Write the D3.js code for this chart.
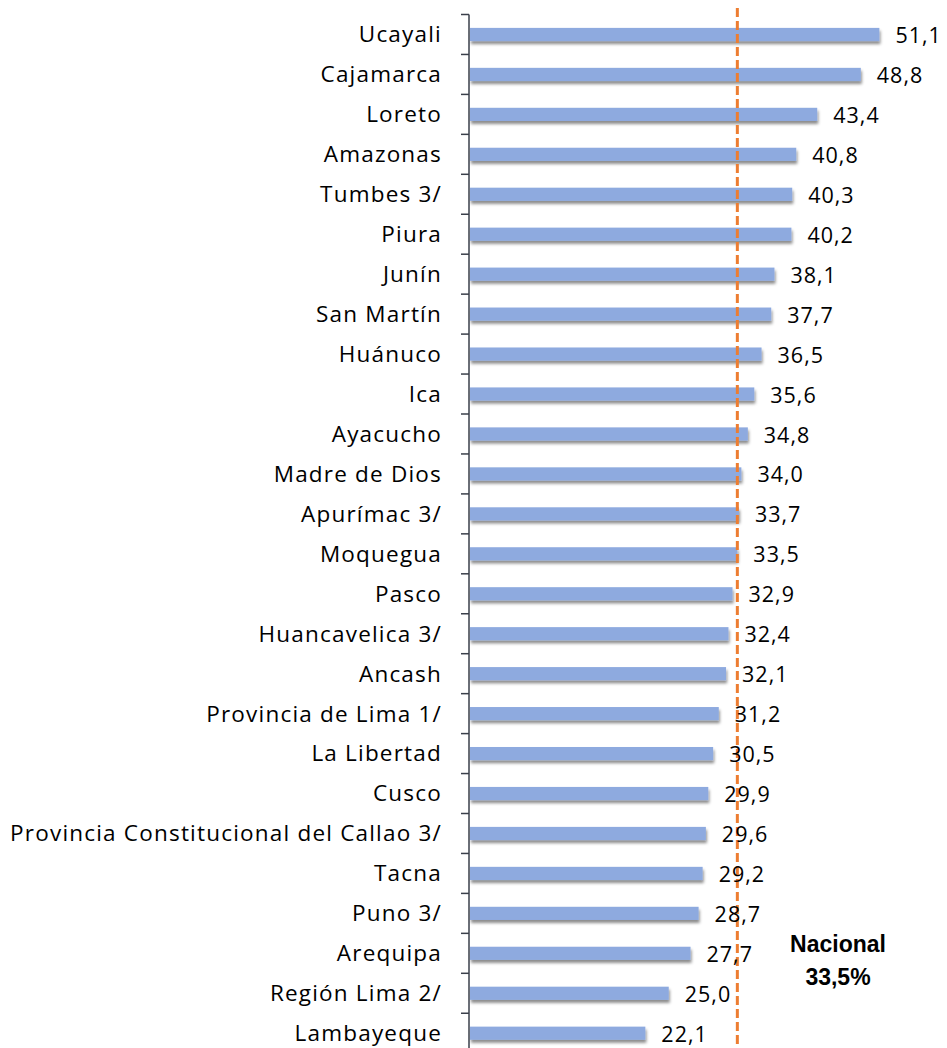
<!DOCTYPE html>
<html>
<head>
<meta charset="utf-8">
<script src="https://cdn.jsdelivr.net/npm/d3@7"></script>
<style>
  body { margin: 0; background: #fff; }
  svg { display: block; }
</style>
</head>
<body>
<div id="chart"></div>
<script>
// regions, top to bottom
var regions = ["Ucayali", "Cajamarca", "Loreto", "Amazonas", "Tumbes 3/", "Piura", "Junín",
  "San Martín", "Huánuco", "Ica", "Ayacucho", "Madre de Dios", "Apurímac 3/", "Moquegua",
  "Pasco", "Huancavelica 3/", "Ancash", "Provincia de Lima 1/", "La Libertad", "Cusco",
  "Provincia Constitucional del Callao 3/", "Tacna", "Puno 3/", "Arequipa", "Región Lima 2/",
  "Lambayeque"];
var values = [51.1, 48.8, 43.4, 40.8, 40.3, 40.2, 38.1, 37.7, 36.5, 35.6, 34.8, 34.0, 33.7,
  33.5, 32.9, 32.4, 32.1, 31.2, 30.5, 29.9, 29.6, 29.2, 28.7, 27.7, 25.0, 22.1];
var nationalValue = 33.5;
var nationalLabel = ["Nacional", "33,5%"];

var width = 947, height = 1048;

var svg = d3.select("#chart").append("svg")
  .attr("width", width)
  .attr("height", height);

// drop shadow under the bars
var filter = svg.append("defs").append("filter")
  .attr("id", "shadow")
  .attr("x", "-5%").attr("y", "-50%")
  .attr("width", "110%").attr("height", "220%");
filter.append("feDropShadow")
  .attr("dx", 1).attr("dy", 3)
  .attr("stdDeviation", 1.6)
  .attr("flood-color", "#000")
  .attr("flood-opacity", 0.45);

// scales
var x = d3.scaleLinear()
  .domain([0, 55])
  .range([467, 467 + 55 * 8.07]);

var y = d3.scaleBand()
  .domain(regions)
  .range([14.5, 14.5 + regions.length * 39.95])
  .paddingInner(0.67)
  .paddingOuter(0.335);

var data = regions.map(function (r, i) { return { region: r, value: values[i] }; });
var fmt = function (v) { return d3.format(".1f")(v).replace(".", ","); };
var axisX = x(0) + 2;
var labelFont = "'Open Sans', 'Noto Sans', sans-serif";

// bars
svg.selectAll(".bar")
  .data(data)
  .enter().append("rect")
  .attr("class", "bar")
  .attr("x", axisX + 1)
  .attr("y", function (d) { return y(d.region); })
  .attr("width", function (d) { return x(d.value) - axisX - 1; })
  .attr("height", y.bandwidth())
  .attr("fill", "#8eaadf")
  .attr("filter", "url(#shadow)");

// y axis with ticks between categories
var step = y.step();
svg.append("line")
  .attr("x1", axisX).attr("x2", axisX)
  .attr("y1", y.range()[0]).attr("y2", height)
  .attr("stroke", "#3a3f4a")
  .attr("stroke-width", 1.5);

svg.selectAll(".tick")
  .data(d3.range(regions.length + 1))
  .enter().append("line")
  .attr("x1", axisX - 8).attr("x2", axisX)
  .attr("y1", function (i) { return y.range()[0] + i * step; })
  .attr("y2", function (i) { return y.range()[0] + i * step; })
  .attr("stroke", "#3a3f4a")
  .attr("stroke-width", 1.5);

// category labels
svg.selectAll(".cat")
  .data(data)
  .enter().append("text")
  .attr("class", "cat")
  .attr("x", 442)
  .attr("y", function (d) { return y(d.region) + y.bandwidth() / 2; })
  .attr("dy", "0.35em")
  .attr("text-anchor", "end")
  .style("font-family", labelFont)
  .style("font-size", "22.5px")
  .style("letter-spacing", "1.2px")
  .attr("fill", "#000")
  .text(function (d) { return d.region; });

// national reference line
svg.append("line")
  .attr("x1", x(nationalValue)).attr("x2", x(nationalValue))
  .attr("y1", 8).attr("y2", height)
  .attr("stroke", "#ed7d31")
  .attr("stroke-width", 3)
  .attr("stroke-dasharray", "9,4");

// value labels
svg.selectAll(".val")
  .data(data)
  .enter().append("text")
  .attr("x", function (d) { return x(d.value) + 16; })
  .attr("y", function (d) { return y(d.region) + y.bandwidth() / 2 + 1; })
  .attr("dy", "0.35em")
  .style("font-family", labelFont)
  .style("font-size", "21.5px")
  .style("letter-spacing", "1px")
  .attr("fill", "#000")
  .text(function (d) { return fmt(d.value); });

// national annotation
svg.append("text")
  .attr("x", 838)
  .attr("y", 952)
  .attr("text-anchor", "middle")
  .style("font-family", "'Liberation Sans Narrow', 'Arial Narrow', 'Liberation Sans', sans-serif")
  .style("font-weight", "bold")
  .style("font-size", "23px")
  .attr("fill", "#000")
  .selectAll("tspan")
  .data(nationalLabel)
  .enter().append("tspan")
  .attr("x", 838)
  .attr("dy", function (d, i) { return i === 0 ? 0 : "1.45em"; })
  .text(function (d) { return d; });
</script>
</body>
</html>
